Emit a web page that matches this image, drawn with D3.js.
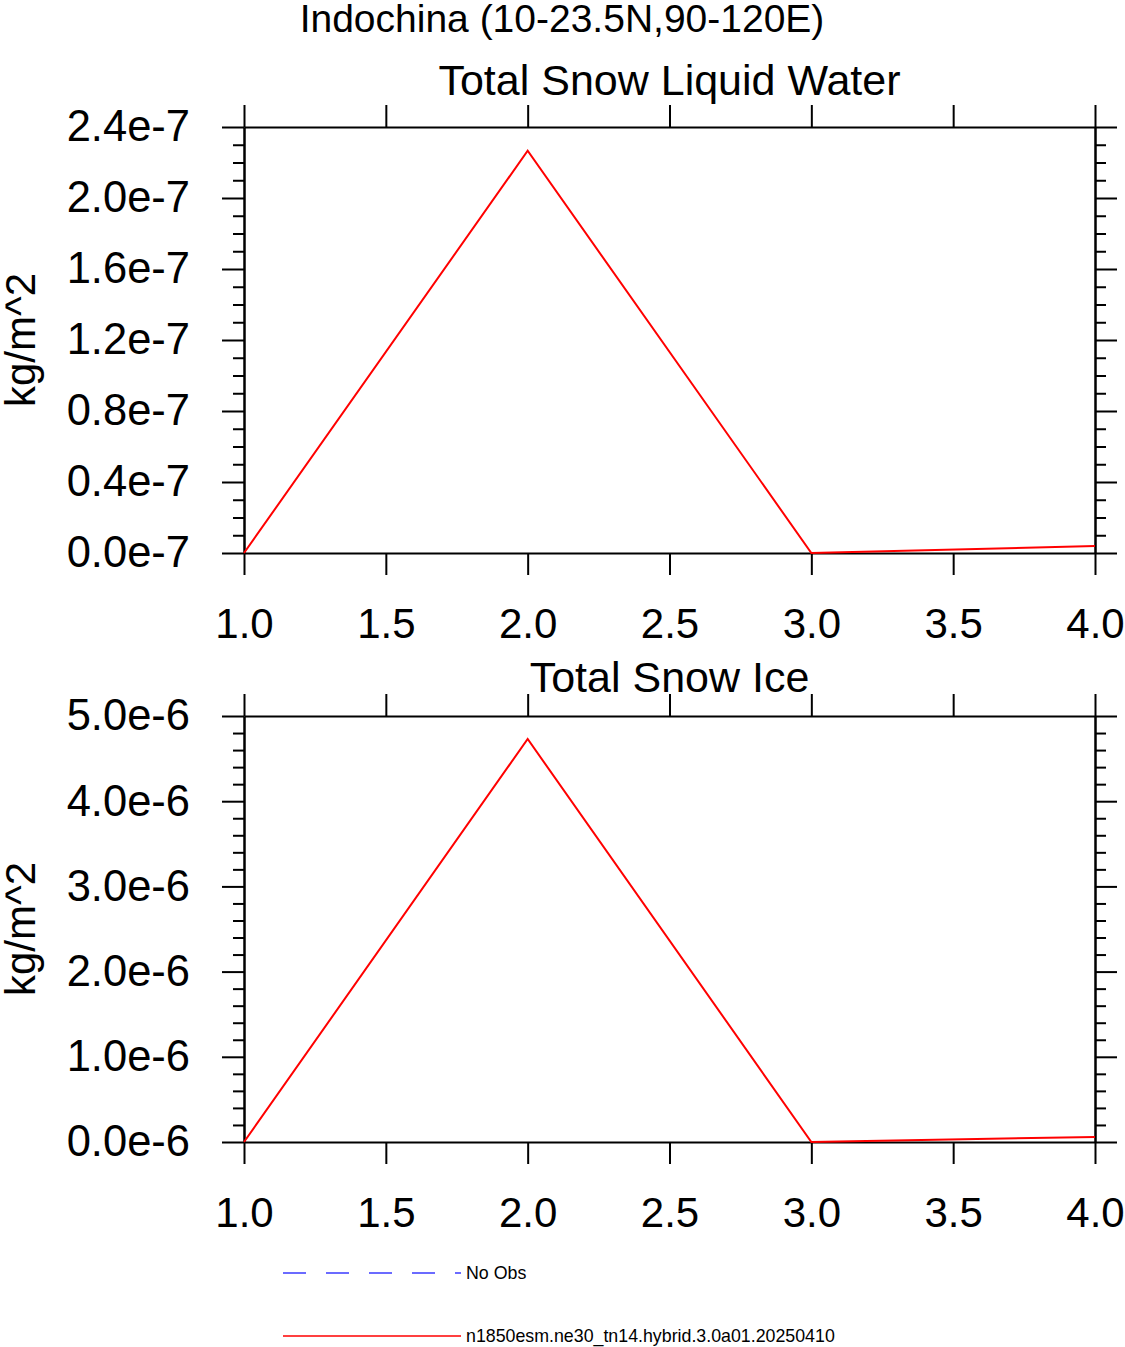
<!DOCTYPE html>
<html lang="en">
<head>
<meta charset="UTF-8">
<title>Indochina snow</title>
<script src="https://d3js.org/d3.v7.min.js"></script>
<style>
  body { margin: 0; background: #fff; }
  svg { display: block; font-family: "Liberation Sans", Arial, Helvetica, sans-serif; }
  .axis path, .axis line { stroke: #000; stroke-width: 2; }
  .axis text { font-size: 42px; fill: #000; }
  .yaxis text { font-size: 43.5px; }
</style>
</head>
<body>
<div id="chart"></div>
<script>
// data
const xVals = [1.0, 2.0, 3.0, 4.0];
const liquidWater = [0, 2.266e-7, 0, 0.039e-7];
const snowIce = [0, 4.73e-6, 0, 0.06e-6];

const xTicks = [1.0, 1.5, 2.0, 2.5, 3.0, 3.5, 4.0];
const xTickLabels = ["1.0", "1.5", "2.0", "2.5", "3.0", "3.5", "4.0"];

const liqTicks = [0, 0.4e-7, 0.8e-7, 1.2e-7, 1.6e-7, 2.0e-7, 2.4e-7];
const liqTickLabels = ["0.0e-7", "0.4e-7", "0.8e-7", "1.2e-7", "1.6e-7", "2.0e-7", "2.4e-7"];
const liqMinor = 4;   // sub-divisions per major

const iceTicks = [0, 1e-6, 2e-6, 3e-6, 4e-6, 5e-6];
const iceTickLabels = ["0.0e-6", "1.0e-6", "2.0e-6", "3.0e-6", "4.0e-6", "5.0e-6"];
const iceMinor = 5;

const mainTitle = "Indochina (10-23.5N,90-120E)";
const unitLabel = "kg/m^2";
const legendItems = [
    { name: "No Obs", color: "#3b3bff", dash: "23,20" },
    { name: "n1850esm.ne30_tn14.hybrid.3.0a01.20250410", color: "#ff0000", dash: null }
];

const width = 1125, height = 1347;
const left = 244, right = 1095;

const svg = d3.select("#chart").append("svg")
    .attr("width", width)
    .attr("height", height);

svg.append("text")
    .attr("x", 562).attr("y", 32)
    .attr("text-anchor", "middle")
    .style("font-size", "39px")
    .text(mainTitle);

const x = d3.scaleLinear().domain([1, 4]).range([left, right]);

function minorTicks(ticks, n) {
    const out = [];
    for (let i = 0; i < ticks.length - 1; i++) {
        const step = (ticks[i + 1] - ticks[i]) / n;
        for (let k = 1; k < n; k++) out.push(ticks[i] + k * step);
    }
    return out;
}

function panel(top, bottom, title, titleY, values, ticks, labels, nMinor) {
    const y = d3.scaleLinear().domain([ticks[0], ticks[ticks.length - 1]]).range([bottom, top]);
    const g = svg.append("g");

    // title
    g.append("text")
        .attr("x", (left + right) / 2).attr("y", titleY)
        .attr("text-anchor", "middle")
        .style("font-size", "43px")
        .text(title);

    // y unit label
    g.append("text")
        .attr("transform", `translate(35,${(top + bottom) / 2}) rotate(-90)`)
        .attr("text-anchor", "middle")
        .style("font-size", "42px")
        .text(unitLabel);

    const minors = minorTicks(ticks, nMinor);

    // left
    g.append("g").attr("class", "axis yaxis")
        .attr("transform", `translate(${left},0)`)
        .call(d3.axisLeft(y).tickValues(ticks).tickSize(22).tickSizeOuter(0).tickPadding(32)
            .tickFormat((d, i) => labels[i]));
    g.append("g").attr("class", "axis")
        .attr("transform", `translate(${left},0)`)
        .call(d3.axisLeft(y).tickValues(minors).tickSize(11).tickSizeOuter(0).tickFormat(""));
    // right
    g.append("g").attr("class", "axis")
        .attr("transform", `translate(${right},0)`)
        .call(d3.axisRight(y).tickValues(ticks).tickSize(22).tickSizeOuter(0).tickFormat(""));
    g.append("g").attr("class", "axis")
        .attr("transform", `translate(${right},0)`)
        .call(d3.axisRight(y).tickValues(minors).tickSize(11).tickSizeOuter(0).tickFormat(""));
    // top
    g.append("g").attr("class", "axis")
        .attr("transform", `translate(0,${top})`)
        .call(d3.axisTop(x).tickValues(xTicks).tickSize(22).tickSizeOuter(0).tickFormat(""));
    // bottom
    g.append("g").attr("class", "axis")
        .attr("transform", `translate(0,${bottom})`)
        .call(d3.axisBottom(x).tickValues(xTicks).tickSize(22).tickSizeOuter(0).tickPadding(33)
            .tickFormat((d, i) => xTickLabels[i]));

    const line = d3.line().x((d, i) => x(xVals[i])).y(d => y(d));
    g.append("path")
        .datum(values)
        .attr("fill", "none")
        .attr("stroke", "#ff0000")
        .attr("stroke-width", 2)
        .attr("d", line);
}

panel(127, 553, "Total Snow Liquid Water", 95, liquidWater, liqTicks, liqTickLabels, liqMinor);
panel(716, 1142, "Total Snow Ice", 692, snowIce, iceTicks, iceTickLabels, iceMinor);

// legend
const legend = svg.append("g");
legendItems.forEach((d, i) => {
    const yy = 1273 + i * 63;
    legend.append("line")
        .attr("x1", 283).attr("x2", 461)
        .attr("y1", yy).attr("y2", yy)
        .attr("stroke", d.color)
        .attr("stroke-width", 1.5)
        .attr("stroke-dasharray", d.dash);
    legend.append("text")
        .attr("x", 466).attr("y", yy + 6)
        .style("font-size", "17.8px")
        .text(d.name);
});
</script>
</body>
</html>
